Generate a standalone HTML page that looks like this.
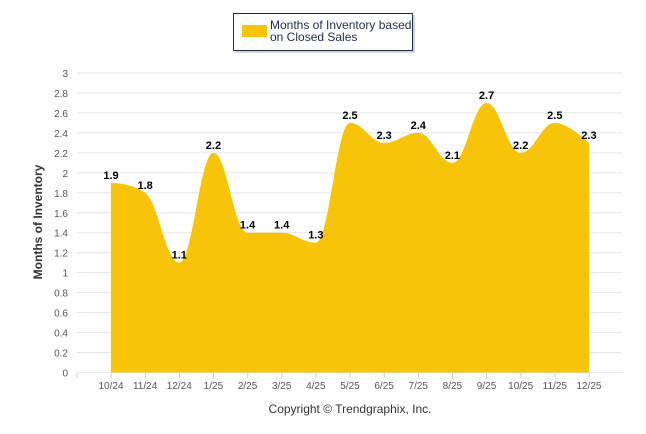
<!DOCTYPE html>
<html><head><meta charset="utf-8"><style>
body{margin:0;background:#fff;}
svg{display:block;font-family:"Liberation Sans",Arial,sans-serif;}
</style></head><body>
<svg width="646" height="434">
<g id="grid"></g>
<g id="yticks"></g>
<path id="area" fill="#F7C40A" stroke="none"/>
<g id="xaxis"></g>
<g id="vals"></g>
<text transform="translate(42,222) rotate(-90)" text-anchor="middle" font-size="12" font-weight="bold" fill="#333">Months of Inventory</text>
<g>
<rect x="235" y="15" width="180" height="38" fill="#888" opacity="0.35"/>
<rect x="233.5" y="13.5" width="179" height="37" fill="#fff" stroke="#1f2d4d" stroke-width="1"/>
<rect x="242" y="25" width="25" height="12" fill="#F7C40A"/>
<text x="270" y="29" font-size="12" fill="#1f2d4d">Months of Inventory based</text>
<text x="270" y="41" font-size="12" fill="#1f2d4d">on Closed Sales</text>
</g>
<text x="350" y="413" text-anchor="middle" font-size="12" fill="#333">Copyright © Trendgraphix, Inc.</text>
</svg>
<script>
const categories=["10/24","11/24","12/24","1/25","2/25","3/25","4/25","5/25","6/25","7/25","8/25","9/25","10/25","11/25","12/25"];
const values=[1.9,1.8,1.1,2.2,1.4,1.4,1.3,2.5,2.3,2.4,2.1,2.7,2.2,2.5,2.3];
const yTicks=[0,0.2,0.4,0.6,0.8,1,1.2,1.4,1.6,1.8,2,2.2,2.4,2.6,2.8,3];
const NS="http://www.w3.org/2000/svg";
const y=v=>372.5-v*(299.5/3);
const x=i=>111+i*34.14;
function mk(t,a,p){const e=document.createElementNS(NS,t);for(const k in a)e.setAttribute(k,a[k]);p.appendChild(e);return e;}
const grid=document.getElementById('grid'),yt=document.getElementById('yticks');
yTicks.forEach(v=>{
 const l=mk('line',{x1:77,x2:622,y1:y(v),y2:y(v),stroke:'#e6e6e6','stroke-width':1},grid);
 
 
 const t=mk('text',{x:68,y:y(v)+4,'text-anchor':'end','font-size':10,fill:'#555'},yt);
 t.textContent=String(v);
 
 
});
const xa=document.getElementById('xaxis');
for(let k=0;k<=categories.length+1;k++){
 const tx=77+k*34.14; if(tx>623)break;
 const l=mk('line',{x1:tx,x2:tx,y1:373,y2:378,stroke:'#ccc'},xa);
 
 
}
categories.forEach((c,i)=>{
 const t=mk('text',{x:x(i),y:389,'text-anchor':'middle','font-size':10,fill:'#555'},xa);
 t.textContent=c;
 
 
});
const pts=values.map((v,i)=>[x(i),y(v)]);
function cont(i){
 const [px,py]=pts[i];
 if(i===0||i===pts.length-1)return [[px,py],[px,py]];
 const [lx,ly]=pts[i-1],[nx,ny]=pts[i+1],s=1.5,d=2.5;
 let lcx=(s*px+lx)/d,lcy=(s*py+ly)/d,rcx=(s*px+nx)/d,rcy=(s*py+ny)/d;
 const c=((rcy-lcy)*(rcx-px))/(rcx-lcx)+py-rcy;lcy+=c;rcy+=c;
 if(lcy>ly&&lcy>py){lcy=Math.max(ly,py);rcy=2*py-lcy;}else if(lcy<ly&&lcy<py){lcy=Math.min(ly,py);rcy=2*py-lcy;}
 if(rcy>ny&&rcy>py){rcy=Math.max(ny,py);lcy=2*py-rcy;}else if(rcy<ny&&rcy<py){rcy=Math.min(ny,py);lcy=2*py-rcy;}
 return [[lcx,lcy],[rcx,rcy]];
}
const cs=pts.map((p,i)=>cont(i));
let d=`M${pts[0][0]},${y(0)} L${pts[0][0]},${pts[0][1]}`;
for(let i=1;i<pts.length;i++){d+=` C${cs[i-1][1][0]},${cs[i-1][1][1]} ${cs[i][0][0]},${cs[i][0][1]} ${pts[i][0]},${pts[i][1]}`;}
d+=` L${pts[pts.length-1][0]},${y(0)} Z`;
document.getElementById('area').setAttribute('d',d);
const vg=document.getElementById('vals');
values.forEach((v,i)=>{
 const t=mk('text',{x:x(i),y:y(v)-4,'text-anchor':'middle','font-size':11,'font-weight':'bold',fill:'#000'},vg);
 t.textContent=v.toFixed(1);
 
 
});
</script>
</body></html>
